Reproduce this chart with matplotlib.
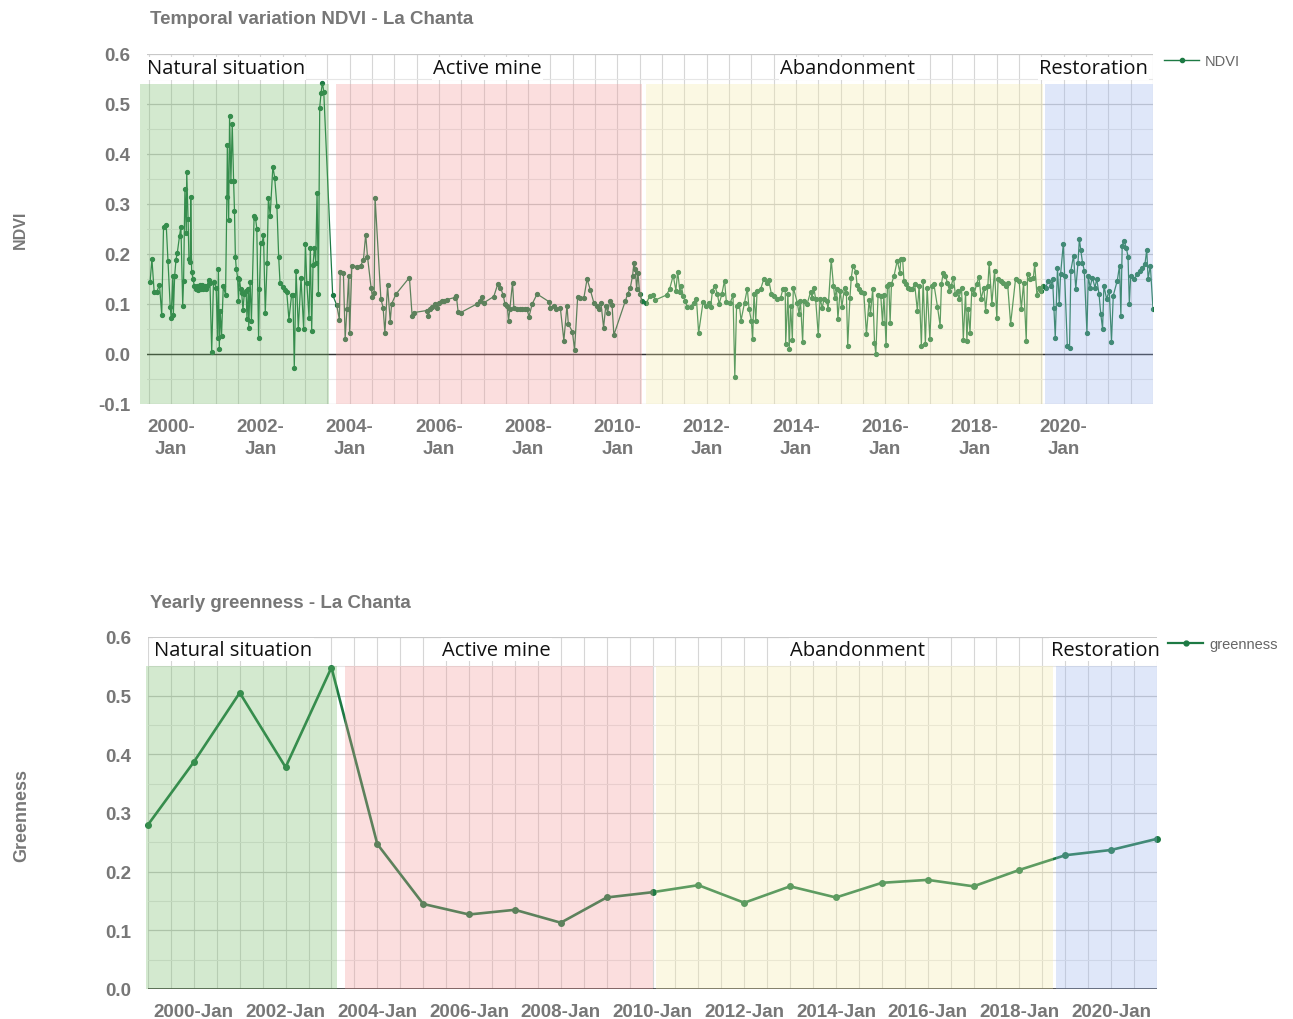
import numpy as np
import matplotlib.pyplot as plt
from matplotlib.ticker import MultipleLocator, FixedLocator
from matplotlib.lines import Line2D

# --- NDVI time series (decimal year, value) ---
ndvi_year = [
    1999.53, 1999.57, 1999.62, 1999.68, 1999.74, 1999.79, 1999.83, 1999.89, 1999.93, 1999.98,
    2000.00, 2000.04, 2000.05, 2000.08, 2000.11, 2000.14, 2000.19, 2000.22, 2000.26, 2000.28,
    2000.31, 2000.34, 2000.35, 2000.38, 2000.40, 2000.43, 2000.44, 2000.46, 2000.49, 2000.52,
    2000.55, 2000.58, 2000.61, 2000.64, 2000.67, 2000.70, 2000.72, 2000.75, 2000.78, 2000.81,
    2000.84, 2000.87, 2000.91, 2000.95, 2001.01, 2001.04, 2001.06, 2001.08, 2001.10, 2001.13,
    2001.17, 2001.22, 2001.25, 2001.26, 2001.29, 2001.31, 2001.34, 2001.37, 2001.40, 2001.42,
    2001.44, 2001.46, 2001.49, 2001.51, 2001.53, 2001.56, 2001.58, 2001.61, 2001.64, 2001.68,
    2001.70, 2001.73, 2001.74, 2001.77, 2001.80, 2001.86, 2001.89, 2001.92, 2001.96, 2001.98,
    2002.01, 2002.04, 2002.07, 2002.11, 2002.15, 2002.18, 2002.22, 2002.28, 2002.32, 2002.37,
    2002.41, 2002.44, 2002.50, 2002.55, 2002.59, 2002.64, 2002.70, 2002.73, 2002.76, 2002.80,
    2002.85, 2002.91, 2002.97, 2003.01, 2003.04, 2003.09, 2003.12, 2003.15, 2003.18, 2003.21,
    2003.24, 2003.27, 2003.30, 2003.33, 2003.36, 2003.39, 2003.42,
    2003.62, 2003.71, 2003.77, 2003.79, 2003.86, 2003.90, 2003.94, 2003.98, 2004.00, 2004.05,
    2004.16, 2004.25, 2004.31, 2004.36, 2004.40, 2004.48, 2004.51, 2004.55, 2004.57, 2004.70,
    2004.75, 2004.79, 2004.85, 2004.91, 2004.94, 2005.04, 2005.34, 2005.40, 2005.45, 2005.73,
    2005.76, 2005.81, 2005.85, 2005.91, 2005.96, 2006.00, 2006.06, 2006.12, 2006.18, 2006.36,
    2006.39, 2006.43, 2006.49, 2006.85, 2006.93, 2006.96, 2007.00, 2007.23, 2007.32, 2007.38,
    2007.44, 2007.48, 2007.53, 2007.56, 2007.59, 2007.65, 2007.68, 2007.75, 2007.81, 2007.87,
    2007.93, 2007.97, 2008.02, 2008.09, 2008.20, 2008.46, 2008.50, 2008.57, 2008.63, 2008.72,
    2008.80, 2008.87, 2008.90, 2008.99, 2009.04, 2009.11, 2009.17, 2009.25, 2009.32, 2009.39,
    2009.47, 2009.54, 2009.59, 2009.63, 2009.69, 2009.74, 2009.78, 2009.83, 2009.88, 2009.92,
    2010.18, 2010.23, 2010.29, 2010.34, 2010.37, 2010.40, 2010.43, 2010.46, 2010.50, 2010.55,
    2010.65, 2010.73, 2010.80, 2010.85, 2011.10, 2011.17, 2011.25, 2011.31, 2011.35, 2011.40,
    2011.43, 2011.47, 2011.52, 2011.56, 2011.64, 2011.71, 2011.77, 2011.82, 2011.92, 2011.98,
    2012.06, 2012.09, 2012.13, 2012.18, 2012.24, 2012.28, 2012.34, 2012.40, 2012.44, 2012.53,
    2012.59, 2012.63, 2012.67, 2012.73, 2012.77, 2012.85, 2012.91, 2012.95, 2013.00, 2013.03,
    2013.06, 2013.10, 2013.13, 2013.21, 2013.28, 2013.36, 2013.39, 2013.45, 2013.51, 2013.58,
    2013.66, 2013.71, 2013.76, 2013.77, 2013.82, 2013.85, 2013.88, 2013.92, 2013.94, 2014.03,
    2014.07, 2014.10, 2014.15, 2014.18, 2014.25, 2014.33, 2014.36, 2014.40, 2014.44, 2014.50,
    2014.54, 2014.59, 2014.63, 2014.69, 2014.72, 2014.79, 2014.84, 2014.87, 2014.91, 2014.94,
    2014.99, 2015.03, 2015.09, 2015.13, 2015.16, 2015.21, 2015.24, 2015.28, 2015.34, 2015.37,
    2015.42, 2015.46, 2015.52, 2015.58, 2015.64, 2015.67, 2015.72, 2015.76, 2015.79, 2015.84,
    2015.90, 2015.94, 2015.97, 2016.02, 2016.05, 2016.08, 2016.11, 2016.14, 2016.20, 2016.27,
    2016.33, 2016.35, 2016.39, 2016.42, 2016.47, 2016.51, 2016.56, 2016.61, 2016.66, 2016.72,
    2016.76, 2016.81, 2016.85, 2016.90, 2016.94, 2017.00, 2017.05, 2017.09, 2017.17, 2017.23,
    2017.26, 2017.30, 2017.35, 2017.39, 2017.44, 2017.48, 2017.53, 2017.57, 2017.62, 2017.65,
    2017.71, 2017.75, 2017.80, 2017.83, 2017.86, 2017.90, 2017.94, 2017.99, 2018.05, 2018.10,
    2018.15, 2018.21, 2018.25, 2018.30, 2018.33, 2018.39, 2018.45, 2018.50, 2018.53, 2018.59,
    2018.65, 2018.70, 2018.74, 2018.81, 2018.92, 2019.00, 2019.05, 2019.10, 2019.16, 2019.19,
    2019.25, 2019.32, 2019.35, 2019.40, 2019.45, 2019.48, 2019.54, 2019.60, 2019.65, 2019.71,
    2019.75, 2019.78, 2019.81, 2019.86, 2019.90, 2019.93, 2019.99, 2020.02, 2020.08, 2020.13,
    2020.16, 2020.22, 2020.27, 2020.32, 2020.35, 2020.38, 2020.42, 2020.46, 2020.52, 2020.55,
    2020.59, 2020.64, 2020.70, 2020.74, 2020.79, 2020.83, 2020.87, 2020.90, 2020.96, 2021.02,
    2021.07, 2021.11, 2021.20, 2021.25, 2021.28, 2021.31, 2021.35, 2021.40, 2021.44, 2021.47,
    2021.50, 2021.58, 2021.65, 2021.71, 2021.76, 2021.82, 2021.86, 2021.89, 2021.94, 2022.00,
]
ndvi_value = [
    0.145, 0.190, 0.125, 0.125, 0.138, 0.078, 0.255, 0.259, 0.187, 0.095,
    0.073, 0.157, 0.078, 0.157, 0.189, 0.203, 0.237, 0.255, 0.097, 0.147,
    0.331, 0.243, 0.365, 0.270, 0.190, 0.185, 0.315, 0.165, 0.150, 0.137,
    0.130, 0.137, 0.129, 0.138, 0.131, 0.138, 0.130, 0.137, 0.131, 0.137,
    0.149, 0.143, 0.005, 0.145, 0.133, 0.033, 0.171, 0.011, 0.087, 0.037,
    0.137, 0.118, 0.315, 0.418, 0.268, 0.477, 0.347, 0.460, 0.347, 0.287,
    0.195, 0.171, 0.153, 0.107, 0.150, 0.130, 0.123, 0.089, 0.120, 0.127,
    0.071, 0.130, 0.053, 0.145, 0.067, 0.277, 0.273, 0.251, 0.033, 0.131,
    0.223, 0.223, 0.238, 0.082, 0.183, 0.313, 0.277, 0.375, 0.353, 0.297,
    0.195, 0.143, 0.135, 0.129, 0.125, 0.069, 0.118, 0.118, -0.027, 0.167,
    0.050, 0.153, 0.050, 0.220, 0.142, 0.073, 0.213, 0.047, 0.178, 0.213,
    0.183, 0.322, 0.120, 0.493, 0.522, 0.543, 0.525,
    0.118, 0.098, 0.069, 0.165, 0.163, 0.031, 0.090, 0.157, 0.042, 0.177,
    0.175, 0.177, 0.189, 0.239, 0.195, 0.133, 0.115, 0.122, 0.313, 0.110,
    0.093, 0.042, 0.138, 0.065, 0.100, 0.120, 0.153, 0.077, 0.083, 0.087,
    0.077, 0.090, 0.095, 0.100, 0.093, 0.103, 0.107, 0.107, 0.109, 0.113,
    0.117, 0.085, 0.083, 0.100, 0.107, 0.115, 0.102, 0.115, 0.140, 0.133,
    0.118, 0.100, 0.097, 0.067, 0.090, 0.143, 0.093, 0.090, 0.091, 0.090,
    0.091, 0.090, 0.075, 0.100, 0.120, 0.105, 0.093, 0.097, 0.090, 0.093,
    0.027, 0.097, 0.060, 0.045, 0.009, 0.115, 0.113, 0.113, 0.150, 0.129,
    0.103, 0.097, 0.090, 0.103, 0.053, 0.097, 0.083, 0.107, 0.098, 0.038,
    0.107, 0.120, 0.133, 0.157, 0.182, 0.171, 0.130, 0.162, 0.120, 0.107,
    0.102, 0.117, 0.118, 0.108, 0.118, 0.130, 0.157, 0.127, 0.165, 0.125,
    0.137, 0.117, 0.107, 0.095, 0.095, 0.103, 0.111, 0.042, 0.105, 0.097,
    0.103, 0.095, 0.127, 0.137, 0.120, 0.100, 0.120, 0.147, 0.105, 0.103,
    0.118, -0.045, 0.097, 0.100, 0.067, 0.103, 0.131, 0.090, 0.067, 0.031,
    0.120, 0.067, 0.127, 0.130, 0.150, 0.143, 0.148, 0.120, 0.117, 0.111,
    0.113, 0.131, 0.130, 0.020, 0.120, 0.011, 0.097, 0.029, 0.133, 0.103,
    0.080, 0.107, 0.025, 0.107, 0.100, 0.125, 0.113, 0.133, 0.111, 0.038,
    0.110, 0.093, 0.110, 0.107, 0.090, 0.189, 0.137, 0.113, 0.130, 0.070,
    0.127, 0.095, 0.133, 0.123, 0.017, 0.113, 0.153, 0.177, 0.165, 0.138,
    0.130, 0.125, 0.122, 0.040, 0.109, 0.080, 0.130, 0.023, 0.000, 0.118,
    0.117, 0.062, 0.118, 0.018, 0.137, 0.140, 0.063, 0.140, 0.157, 0.187,
    0.163, 0.191, 0.190, 0.147, 0.140, 0.133, 0.130, 0.131, 0.140, 0.087,
    0.137, 0.017, 0.147, 0.020, 0.133, 0.030, 0.137, 0.140, 0.095, 0.057,
    0.140, 0.163, 0.157, 0.143, 0.127, 0.137, 0.153, 0.120, 0.127, 0.110,
    0.133, 0.029, 0.123, 0.027, 0.090, 0.043, 0.130, 0.120, 0.140, 0.155,
    0.110, 0.133, 0.087, 0.137, 0.183, 0.100, 0.167, 0.073, 0.150, 0.147,
    0.143, 0.137, 0.143, 0.060, 0.150, 0.147, 0.090, 0.143, 0.027, 0.160,
    0.151, 0.153, 0.180, 0.118, 0.133, 0.127, 0.137, 0.133, 0.147, 0.137,
    0.150, 0.093, 0.033, 0.173, 0.100, 0.160, 0.220, 0.157, 0.017, 0.013,
    0.167, 0.197, 0.130, 0.183, 0.230, 0.209, 0.183, 0.167, 0.043, 0.157,
    0.133, 0.153, 0.133, 0.150, 0.120, 0.080, 0.050, 0.137, 0.110, 0.127,
    0.025, 0.117, 0.147, 0.177, 0.077, 0.217, 0.227, 0.213, 0.195, 0.100,
    0.157, 0.150, 0.160, 0.167, 0.173, 0.180, 0.209, 0.150, 0.177, 0.090,
]

# --- yearly greenness (January of each year) ---
green_year = list(range(1999, 2022))
green_value = [0.280, 0.387, 0.505, 0.378, 0.548, 0.247, 0.145, 0.127, 0.135, 0.113,
               0.156, 0.165, 0.177, 0.147, 0.175, 0.156, 0.181, 0.186, 0.175, 0.203,
               0.228, 0.237, 0.256]

# --- phases (label, start, end) in decimal years ---
phase_names = ['Natural situation', 'Active mine', 'Abandonment', 'Restoration']
phase_top_start = [1999.30, 2003.70, 2010.63, 2019.57]
phase_top_end = [2003.54, 2010.54, 2019.53, 2022.00]
phase_bot_start = [1998.96, 2003.30, 2010.07, 2018.80]
phase_bot_end = [2003.13, 2010.00, 2018.74, 2021.00]

# overlay colours (semi transparent, drawn over the lines)
phase_colors = ['#70b962', '#f29494', '#f5eba5', '#98b2ee']
OVERLAY_ALPHA = 0.3

LINE_COLOR = '#1d7a44'
TICK_COLOR = '#777777'
W, H = 1293, 1020

fig = plt.figure(figsize=(W / 100, H / 100), dpi=100)
ax1 = fig.add_axes([147 / W, 1 - 405 / H, (1153 - 147) / W, 350 / H])
ax2 = fig.add_axes([148 / W, 1 - 990 / H, (1157 - 148) / W, 352 / H])


def style_axis(ax, ymin, ymax, xmin, xmax, two_line):
    ax.set_xlim(xmin, xmax)
    ax.set_ylim(ymin, ymax)
    for s in ax.spines.values():
        s.set_visible(False)
    ax.yaxis.set_major_locator(MultipleLocator(0.1))
    ax.yaxis.set_minor_locator(MultipleLocator(0.05))
    years = list(range(2000, 2021, 2))
    ax.xaxis.set_major_locator(FixedLocator(years))
    ax.xaxis.set_minor_locator(MultipleLocator(0.5))
    sep = '-\n' if two_line else '-'
    ax.set_xticklabels([f'{y}{sep}Jan' for y in years])
    ax.set_yticks(np.arange(ymin, ymax + 0.001, 0.1))
    ax.set_yticklabels([f'{v:.1f}' for v in np.arange(ymin, ymax + 0.001, 0.1)])
    ax.grid(which='major', axis='y', color='#c8c8c8', lw=0.9)
    ax.grid(which='minor', axis='y', color='#e6e6e6', lw=0.8)
    ax.grid(which='both', axis='x', color='#d6d6d6', lw=0.8)
    ax.set_axisbelow(True)
    ax.tick_params(which='both', length=0)
    ax.tick_params(axis='y', pad=12)
    ax.tick_params(axis='x', pad=10)
    for lab in ax.get_xticklabels() + ax.get_yticklabels():
        lab.set_fontfamily('Liberation Sans')
        lab.set_fontweight('bold')
        lab.set_color(TICK_COLOR)
        lab.set_fontsize(13.5)
        lab.set_linespacing(1.4)


# ---------- top panel: NDVI ----------
style_axis(ax1, -0.1, 0.6, 1999.46, 2022.0, True)
ax1.axhline(0, color='#333333', lw=1, zorder=1.5)
ax1.plot(ndvi_year, ndvi_value, color=LINE_COLOR, lw=0.9, marker='o', ms=2.8,
         zorder=2)
for name, x0, x1, c in zip(phase_names, phase_top_start, phase_top_end, phase_colors):
    ax1.axvspan(x0, x1, ymin=0, ymax=0.64 / 0.7, color=c, alpha=OVERLAY_ALPHA,
                lw=0, zorder=3, clip_on=False)
top_label_x = [2001.23, 2007.09, 2015.16, 2020.67]
for name, x in zip(phase_names, top_label_x):
    ax1.text(x, 0.571, name, ha='center', va='center', fontsize=14.5,
             family='Open Sans', color='#111111', zorder=5,
             bbox=dict(fc='white', ec='none', pad=1.0))

# ---------- bottom panel: greenness ----------
style_axis(ax2, 0.0, 0.6, 1999.0, 2021.0, False)
ax2.axhline(0, color='#444444', lw=1.3, zorder=1.5)
ax2.plot(green_year, green_value, color=LINE_COLOR, lw=1.9, marker='o', ms=4,
         zorder=2, clip_on=False)
for name, x0, x1, c in zip(phase_names, phase_bot_start, phase_bot_end, phase_colors):
    ax2.axvspan(x0, x1, ymin=0, ymax=0.55 / 0.6, color=c, alpha=OVERLAY_ALPHA,
                lw=0, zorder=3, clip_on=False)
bot_label_x = [2000.86, 2006.60, 2014.48, 2019.87]
for name, x in zip(phase_names, bot_label_x):
    ax2.text(x, 0.578, name, ha='center', va='center', fontsize=14.5,
             family='Open Sans', color='#111111', zorder=5,
             bbox=dict(fc='white', ec='none', pad=1.0))

# ---------- titles, axis titles, legends ----------
fig.text(150 / W, 1 - 19 / H, 'Temporal variation NDVI - La Chanta', fontsize=13.5,
         fontweight='bold', color=TICK_COLOR, family='Liberation Sans', va='center')
fig.text(150 / W, 1 - 603 / H, 'Yearly greenness - La Chanta', fontsize=13.5,
         fontweight='bold', color=TICK_COLOR, family='Liberation Sans', va='center')
fig.text(20 / W, 1 - 230 / H, 'NDVI', rotation=90, fontsize=11.5, fontweight='bold',
         color=TICK_COLOR, family='Liberation Sans', ha='center', va='center')
fig.text(22 / W, 1 - 815 / H, 'Greenness', rotation=90, fontsize=13,
         fontweight='bold', color=TICK_COLOR, family='Liberation Sans',
         ha='center', va='center')

h1 = Line2D([], [], color=LINE_COLOR, lw=1, marker='o', ms=3)
fig.legend([h1], ['NDVI'], loc='center left', bbox_to_anchor=(1157 / W, 1 - 62 / H),
           frameon=False, handlelength=2.4, handletextpad=0.4, borderpad=0,
           prop={'family': 'Liberation Sans', 'size': 10.5}, labelcolor='#666666')
h2 = Line2D([], [], color=LINE_COLOR, lw=1.6, marker='o', ms=3.5)
fig.legend([h2], ['greenness'], loc='center left',
           bbox_to_anchor=(1161 / W, 1 - 645 / H), frameon=False, handlelength=2.4,
           handletextpad=0.4, borderpad=0,
           prop={'family': 'Liberation Sans', 'size': 10.5}, labelcolor='#666666')

fig.savefig('out.png', dpi=100, facecolor='white')
